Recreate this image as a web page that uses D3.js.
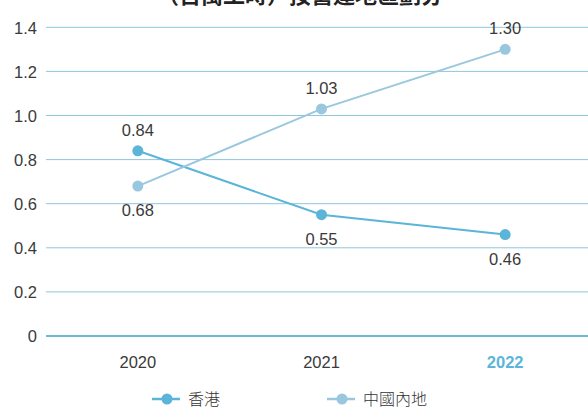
<!DOCTYPE html>
<html lang="zh-Hant">
<head>
<meta charset="UTF-8">
<title>工傷率</title>
<script src="https://d3js.org/d3.v7.min.js"></script>
<style>
  body { margin: 0; background: #fff; }
  svg { display: block; font-family: "Liberation Sans", Arial, sans-serif; }
  .grid line { stroke: #8ec6dc; stroke-width: 1; }
  .tick text { fill: #3a3a3a; font-size: 16.5px; }
</style>
</head>
<body>
<svg width="588" height="408"></svg>
<script>
// data
const years = ["2020", "2021", "2022"];
const hongKong = [0.84, 0.55, 0.46];
const mainland = [0.68, 1.03, 1.30];
const yTicks = [0, 0.2, 0.4, 0.6, 0.8, 1.0, 1.2, 1.4];
const seriesNames = ["香港", "中國內地"];

const svg = d3.select("svg");
const plotLeft = 46, plotRight = 597, plotTop = 27.3, plotBottom = 336;

const x = d3.scaleBand().domain(years).range([plotLeft, plotRight]);
const y = d3.scaleLinear().domain([0, 1.4]).range([plotBottom, plotTop]);
const cx = d => x(d) + x.bandwidth() / 2;

// cut-off title at the very top
svg.append("text")
  .attr("x", 300).attr("y", 3)
  .attr("text-anchor", "middle")
  .attr("font-family", "'Noto Sans CJK TC', sans-serif")
  .attr("font-weight", "bold")
  .attr("font-size", 22)
  .attr("fill", "#222")
  .text("（百萬工時）按營運地區劃分");

// gridlines
svg.append("g").attr("class", "grid")
  .selectAll("line").data(yTicks.slice(1)).join("line")
  .attr("x1", plotLeft).attr("x2", 588)
  .attr("y1", d => y(d)).attr("y2", d => y(d));

svg.append("line")
  .attr("x1", plotLeft).attr("x2", 588)
  .attr("y1", y(0)).attr("y2", y(0))
  .attr("stroke", "#6cb9d9").attr("stroke-width", 2);

// y axis labels
const yAxis = svg.append("g")
  .attr("transform", `translate(${plotLeft - 9},0)`)
  .call(d3.axisLeft(y).tickValues(yTicks).tickSize(0).tickPadding(0)
    .tickFormat(d => d === 0 ? "0" : d3.format(".1f")(d)));
yAxis.select(".domain").remove();
yAxis.selectAll("text").attr("dy", "0.35em");

// x axis labels
const xAxis = svg.append("g")
  .attr("transform", `translate(0,${plotBottom + 20})`)
  .call(d3.axisBottom(x).tickSize(0).tickPadding(0));
xAxis.select(".domain").remove();
xAxis.selectAll("text").attr("dy", "0.71em");
xAxis.selectAll(".tick text")
  .filter(d => d === "2022")
  .style("fill", "#5bb5da").style("font-weight", "bold");

const colors = ["#5ab5d9", "#99c7de"];
const series = [hongKong, mainland];
// label placement: above (-1) or below (+1)
const labelPos = [[-1, 1, 1], [1, -1, -1]];

const line = d3.line().x((d, i) => cx(years[i])).y(d => y(d));

series.forEach((vals, s) => {
  const g = svg.append("g");
  g.append("path").datum(vals)
    .attr("d", line)
    .attr("fill", "none")
    .attr("stroke", colors[s])
    .attr("stroke-width", 2);
  g.selectAll("circle").data(vals).join("circle")
    .attr("cx", (d, i) => cx(years[i]))
    .attr("cy", d => y(d))
    .attr("r", 5.5)
    .attr("fill", colors[s]);
  g.selectAll("text").data(vals).join("text")
    .attr("x", (d, i) => cx(years[i]))
    .attr("y", (d, i) => y(d) + (labelPos[s][i] < 0 ? -15 : 30))
    .attr("text-anchor", "middle")
    .attr("font-size", 16.5)
    .attr("fill", "#3a3a3a")
    .text(d => d3.format(".2f")(d));
});

// legend
const legendX = [152, 327];
const legend = svg.append("g").attr("transform", "translate(0,399)");
seriesNames.forEach((name, s) => {
  const lx = legendX[s];
  legend.append("line")
    .attr("x1", lx).attr("x2", lx + 28)
    .attr("stroke", colors[s]).attr("stroke-width", 2.5);
  legend.append("circle")
    .attr("cx", lx + 15).attr("r", 5.5).attr("fill", colors[s]);
  legend.append("text")
    .attr("x", lx + 36).attr("dy", "0.36em")
    .attr("font-family", "'Noto Sans CJK TC', sans-serif")
    .attr("font-weight", 300)
    .attr("font-size", 16)
    .attr("fill", "#333")
    .text(name);
});
</script>
</body>
</html>
